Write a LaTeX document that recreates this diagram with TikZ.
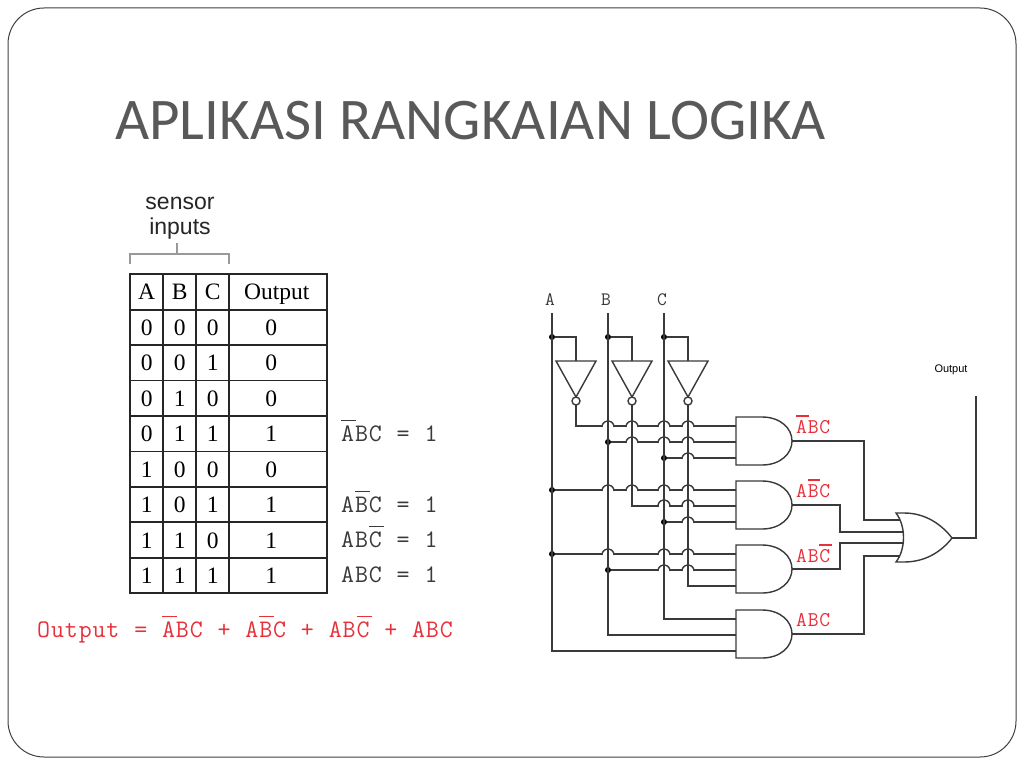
\documentclass[tikz,border=0pt]{standalone}
\usepackage{fontspec}
\setmainfont{Liberation Serif}
\setsansfont{Liberation Sans}
\newfontfamily\titlefont{Carlito}
\newfontfamily\courier[LetterSpace=3.5,WordSpace=1.07]{Latin Modern Mono}
\usetikzlibrary{matrix,positioning}

\definecolor{titlegray}{HTML}{595959}
\definecolor{wiregray}{HTML}{3A3A3A}
\definecolor{labelred}{HTML}{E8303A}

\newcommand{\fsz}[1]{\fontsize{#1}{#1}\selectfont}
\newcommand{\nb}[1]{\leavevmode\rlap{\rule[0.78em]{0.6em}{0.065em}}#1}
\newcommand{\nbm}[1]{\kern0.035em\nb{#1}}
\newcommand{\oc}[1]{\hspace*{-14pt}#1}
% saut d'un fil horizontal au-dessus d'un fil vertical
\newcommand{\hop}[2]{%
  \draw[white,line width=3pt] (#1-5,#2) -- (#1+5,#2);
  \draw[wire] (#1,#2-7) -- (#1,#2+7);
  \draw[wire] (#1-6,#2) .. controls (#1-4,#2-7) and (#1+4,#2-7) .. (#1+6,#2);
}

\tikzset{
  x=1pt, y=-1pt,
  wire/.style={draw=wiregray, line width=1.4pt},
  dot/.style={circle, fill=black, inner sep=0pt, minimum size=6pt},
  gatelabel/.style={anchor=base west, inner sep=0pt, text=labelred, font=\courier\fsz{21}},
  eqlabel/.style={anchor=base west, inner sep=0pt, text=wiregray, font=\courier\fsz{25.2}},
  andgate/.pic={
    \draw[wire] (0,0) -- (26,0) .. controls (44,0) and (56,11) .. (56,24)
      .. controls (56,37) and (44,48) .. (26,48) -- (0,48) -- cycle;
    \coordinate (-in1) at (0,9);
    \coordinate (-in2) at (0,25);
    \coordinate (-in3) at (0,41);
    \coordinate (-out) at (56,24);
  },
  notgate/.pic={
    \draw[wire] (-20,0) -- (20,0) -- (0,36) -- cycle;
    \draw[wire] (0,40) circle (4);
    \coordinate (-in) at (0,0);
    \coordinate (-out) at (0,44);
  },
  orgate/.pic={
    \draw[wire] (0,0) -- (8,0) .. controls (30,0) and (46,12) .. (56,25)
      .. controls (46,38) and (30,49) .. (8,49) -- (0,49)
      .. controls (10,36) and (10,13) .. (0,0) -- cycle;
    \coordinate (-in1) at (4,7);
    \coordinate (-in2) at (7,19);
    \coordinate (-in3) at (7,30);
    \coordinate (-in4) at (4,43);
    \coordinate (-out) at (56,25);
  },
}

\begin{document}
\begin{tikzpicture}
  \useasboundingbox (0,0) rectangle (1024,768);
  \draw[rounded corners=36pt, draw=black!75, line width=1pt, fill=white] (8,8) rectangle (1016,757);

  \node[anchor=base west, inner sep=0pt, text=titlegray, font=\titlefont\fsz{59}] (title) at (115,139) {APLIKASI RANGKAIAN LOGIKA};

  % table de verite
  \matrix (m) [matrix of nodes, anchor=north west, inner sep=0pt, row sep=-1.8pt, column sep=-1.8pt,
    nodes={draw=black!85, line width=1.8pt, outer sep=0pt, text height=16pt, text depth=0pt, minimum height=35.44pt, inner sep=0pt, font=\fsz{23.5}},
    column 1/.style={nodes={minimum width=33pt}},
    column 2/.style={nodes={minimum width=33pt}},
    column 3/.style={nodes={minimum width=33pt}},
    column 4/.style={nodes={minimum width=98pt}}] at (129.1,273.1)
  {
    A & B & C & \hspace*{-3pt}Output \\
    0 & 0 & 0 & \oc{0} \\
    0 & 0 & 1 & \oc{0} \\
    0 & 1 & 0 & \oc{0} \\
    0 & 1 & 1 & \oc{1} \\
    1 & 0 & 0 & \oc{0} \\
    1 & 0 & 1 & \oc{1} \\
    1 & 1 & 0 & \oc{1} \\
    1 & 1 & 1 & \oc{1} \\
  };

  % accolade des entrees
  \node[align=center, inner sep=0pt, anchor=south, text=black!85, font=\sffamily\fsz{23}, text depth=0pt] (sensor) at (180,235) {sensor\\[2pt]inputs};
  \coordinate (brL) at (130,264);
  \coordinate (brR) at (229,264);
  \coordinate (brS) at (177,243);
  \draw[draw=black!40, line width=1.4pt] (brL) -- (130,254) -- (229,254) -- (brR);
  \draw[draw=black!40, line width=1.4pt] (brS) -- (177,254);

  \node[eqlabel] (eq1) at (341,441) {\nb{A}BC = 1};
  \node[eqlabel] (eq2) at (341,512) {A\nbm{B}C = 1};
  \node[eqlabel] (eq3) at (341,547) {AB\nbm{C} = 1};
  \node[eqlabel] (eq4) at (341,582) {ABC = 1};
  \node[eqlabel, text=labelred] (outeq) at (37,637) {Output = \nb{A}BC + A\nbm{B}C + AB\nbm{C} + ABC};

  % entrees et inverseurs
  \foreach \s/\x in {A/552,B/608,C/664} {
    \node[anchor=base, inner sep=0pt, text=wiregray, font=\courier\fsz{19}] (lab\s) at (\x-2,305) {\s};
    \coordinate (top\s) at (\x,313);
    \node[dot] (j\s) at (\x,337) {};
    \pic (n\s) at (\x+24,361) {notgate};
    \draw[wire] (j\s) -| (n\s-in);
  }

  % portes
  \pic (g1) at (736,417) {andgate};
  \pic (g2) at (736,481) {andgate};
  \pic (g3) at (736,545) {andgate};
  \pic (g4) at (736,610) {andgate};
  \pic (or) at (896,513) {orgate};

  \node[dot] (jB1) at (608,442) {};
  \node[dot] (jC1) at (664,458) {};
  \node[dot] (jA2) at (552,490) {};
  \node[dot] (jC2) at (664,522) {};
  \node[dot] (jA3) at (552,554) {};
  \node[dot] (jB2) at (608,570) {};

  % fils
  \draw[wire] (topA) |- (g4-in3);
  \draw[wire] (topB) |- (g4-in2);
  \draw[wire] (topC) |- (g4-in1);
  \draw[wire] (nA-out) |- (g1-in1);
  \draw[wire] (jB1) -- (g1-in2);
  \draw[wire] (jC1) -- (g1-in3);
  \draw[wire] (jA2) -- (g2-in1);
  \draw[wire] (nB-out) |- (g2-in2);
  \draw[wire] (jC2) -- (g2-in3);
  \draw[wire] (jA3) -- (g3-in1);
  \draw[wire] (jB2) -- (g3-in2);
  \draw[wire] (nC-out) |- (g3-in3);

  \foreach \y/\xs in {426/{608,632,664,688}, 442/{632,664,688}, 458/{688},
                      490/{608,632,664,688}, 505/{664,688}, 522/{688},
                      554/{608,664,688}, 570/{664,688}} {
    \foreach \x in \xs { \hop{\x}{\y} }
  }

  \draw[wire] (g1-out) -- ++(72,0) |- (or-in1);
  \draw[wire] (g2-out) -- ++(48,0) |- (or-in2);
  \draw[wire] (g3-out) -- ++(48,0) |- (or-in3);
  \draw[wire] (g4-out) -- ++(72,0) |- (or-in4);

  \coordinate (outEnd) at (976,396);
  \draw[wire] (or-out) -| (outEnd);
  \node[anchor=base, inner sep=0pt, font=\sffamily\fsz{11}] (outLab) at (951,372) {Output};

  \node[gatelabel] (lab1) at (796,433) {\nb{A}BC};
  \node[gatelabel] (lab2) at (796,497) {A\nbm{B}C};
  \node[gatelabel] (lab3) at (796,562) {AB\nbm{C}};
  \node[gatelabel] (lab4) at (796,626) {ABC};
\end{tikzpicture}
\end{document}
